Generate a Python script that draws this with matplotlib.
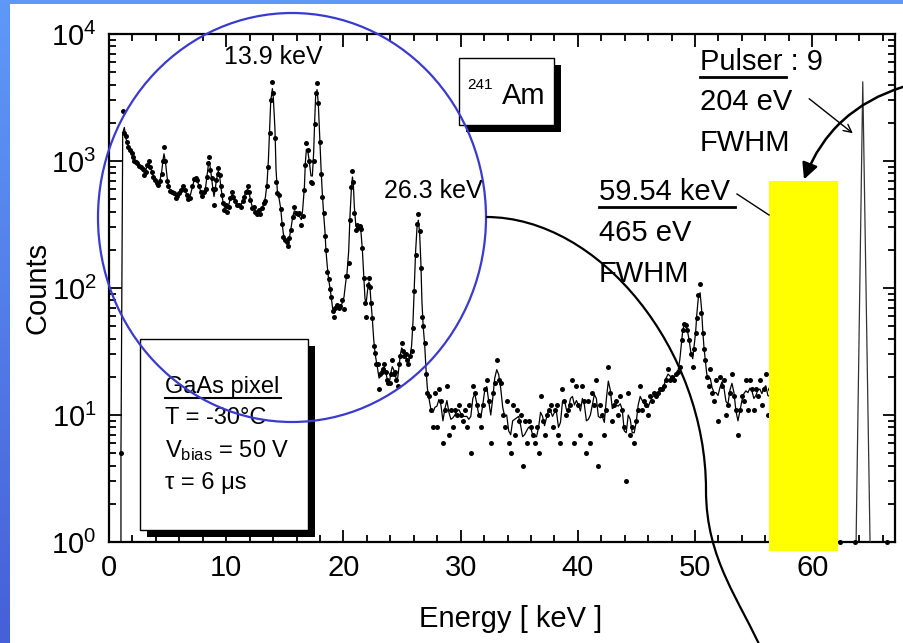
import numpy as np
import matplotlib
matplotlib.use("Agg")
import matplotlib.pyplot as plt
from matplotlib.patches import Rectangle, Ellipse, FancyArrowPatch, PathPatch
from matplotlib.path import Path
from matplotlib.colors import LinearSegmentedColormap
from matplotlib.ticker import MultipleLocator

plt.rcParams["font.family"] = ["Liberation Sans", "DejaVu Sans"]
plt.rcParams["mathtext.fontset"] = "custom"
plt.rcParams["mathtext.rm"] = "Liberation Sans"
plt.rcParams["mathtext.it"] = "Liberation Sans:italic"
plt.rcParams["mathtext.bf"] = "Liberation Sans:bold"

# 241Am spectrum, GaAs pixel (energy in keV, counts per channel)
energy_low = [1.00, 1.02, 1.17, 1.31, 1.42, 1.51, 1.65, 1.79, 1.93, 2.05,
              2.16, 2.27, 2.42, 2.59, 2.73, 2.87, 3.00, 3.13, 3.27, 3.41,
              3.53, 3.64, 3.78, 3.92, 4.07, 4.21, 4.35, 4.49, 4.61, 4.69,
              4.81, 4.95, 5.06, 5.23, 5.40, 5.54, 5.69, 5.83, 5.97, 6.14,
              6.31, 6.46, 6.63, 6.77, 6.94, 7.11, 7.25, 7.39, 7.54, 7.68,
              7.82, 7.96, 8.11, 8.25, 8.36, 8.48, 8.56, 8.65, 8.76, 8.87,
              8.96, 9.05, 9.16, 9.27, 9.33, 9.44, 9.53, 9.64, 9.73, 9.84,
              9.96, 10.10, 10.20, 10.35, 10.47, 10.61, 10.75, 10.92, 11.09, 11.26,
              11.40, 11.55, 11.69, 11.83, 11.95, 12.06, 12.20, 12.34, 12.48, 12.63,
              12.77, 12.91, 13.05, 13.20, 13.34, 13.48, 13.60, 13.71, 13.80, 13.94,
              14.02]
counts_low = [0, 5, 2490, 1650, 1560, 1420, 1280, 1220, 1150, 1070,
              1000, 980, 960, 915, 900, 860, 775, 825, 930, 1000,
              900, 825, 750, 710, 670, 650, 690, 790, 1000, 1280,
              1000, 700, 630, 585, 575, 555, 510, 530, 560, 590,
              640, 595, 540, 500, 510, 630, 720, 730, 710, 630,
              575, 530, 565, 600, 750, 960, 1070, 850, 730, 600,
              450, 600, 710, 790, 880, 770, 630, 540, 465, 410,
              450, 400, 435, 510, 565, 525, 480, 450, 450, 435,
              480, 525, 575, 630, 575, 495, 425, 435, 400, 385,
              410, 385, 425, 465, 485, 630, 900, 1650, 3030, 4210,
              3410]

energy_mid = [14.16, 14.25, 14.36, 14.50, 14.65, 14.76, 14.88, 15.02, 15.16, 15.27,
              15.39, 15.53, 15.67, 15.81, 15.96, 16.10, 16.24, 16.41, 16.52, 16.67,
              16.75, 16.84, 16.95, 17.10, 17.23, 17.35, 17.46, 17.55, 17.63, 17.75,
              17.86, 17.97, 18.09, 18.20, 18.31, 18.43, 18.51, 18.63, 18.74, 18.86,
              18.97, 19.08, 19.20, 19.31, 19.45, 19.60, 19.74, 19.88, 20.05, 20.19,
              20.31, 20.45, 20.56, 20.68, 20.77, 20.85, 20.93, 21.05, 21.16, 21.28,
              21.39, 21.50, 21.61, 21.73, 21.84, 21.93, 22.07, 22.18, 22.27, 22.35,
              22.47, 22.58, 22.70, 22.81, 22.93, 23.04, 23.15, 23.27, 23.38, 23.49,
              23.60, 23.72, 23.83, 23.95, 24.06, 24.17, 24.29, 24.40, 24.51, 24.63,
              24.74, 24.86, 24.97, 25.08, 25.20, 25.31, 25.42, 25.54, 25.68, 25.82,
              25.94, 26.05, 26.16, 26.28, 26.39, 26.50, 26.61, 26.70, 26.81, 26.93,
              27.04, 27.16, 27.30]
counts_mid = [1510, 687, 556, 540, 417, 319, 254, 239, 232, 215,
              246, 286, 365, 432, 392, 383, 387, 313, 369, 591,
              931, 1394, 1220, 1007, 687, 675, 1007, 1954, 3450, 4140,
              2845, 1420, 790, 518, 387, 257, 199, 134, 117, 98,
              85, 66, 59, 70, 73, 70, 72, 80, 68, 124,
              124, 158, 343, 628, 840, 687, 387, 286, 313, 304,
              308, 290, 205, 119, 76, 59, 106, 119, 102, 76,
              58, 35, 31, 25, 25, 16, 21, 22, 23, 25,
              22, 19, 18, 18, 21, 27, 21, 22, 19, 17,
              25, 29, 37, 32, 29, 30, 27, 25, 29, 32,
              48, 94, 182, 319, 383, 283, 143, 59, 50, 37,
              21, 15, 14]

energy_tail = [27.47, 27.64, 27.81, 27.98, 28.15, 28.32, 28.49, 28.66, 28.83, 29.00,
               29.17, 29.34, 29.51, 29.68, 29.85, 30.02, 30.19, 30.36, 30.53, 30.70,
               30.87, 31.04, 31.21, 31.38, 31.55, 31.72, 31.89, 32.06, 32.23, 32.40,
               32.57, 32.74, 32.91, 33.08, 33.25, 33.42, 33.59, 33.76, 33.93, 34.10,
               34.27, 34.44, 34.61, 34.78, 34.95, 35.12, 35.29, 35.46, 35.63, 35.80,
               35.97, 36.14, 36.31, 36.48, 36.65, 36.82, 36.99, 37.16, 37.33, 37.50,
               37.67, 37.84, 38.01, 38.18, 38.35, 38.52, 38.69, 38.86, 39.03, 39.20,
               39.37, 39.54, 39.71, 39.88, 40.05, 40.22, 40.39, 40.56, 40.73, 40.90,
               41.07, 41.24, 41.41, 41.58, 41.75]
counts_tail = [11, 8, 15, 8, 16, 13, 6, 11, 17, 7,
               11, 8, 11, 10, 12, 10, 9, 11, 8, 12,
               5, 17, 15, 12, 10, 8, 12, 16, 19, 13,
               6, 15, 18, 27, 19, 18, 10, 8, 13, 6,
               5, 12, 7, 11, 9, 10, 4, 9, 6, 9,
               8, 7, 6, 8, 5, 14, 9, 7, 10, 11,
               12, 8, 11, 12, 7, 6, 16, 13, 10, 11,
               12, 19, 6, 17, 12, 7, 17, 13, 5, 13,
               6, 15, 12, 19, 4]

energy_high = [41.92, 42.09, 42.26, 42.43, 42.60, 42.77, 42.94, 43.11, 43.28, 43.45,
               43.62, 43.79, 43.96, 44.13, 44.30, 44.47, 44.64, 44.81, 44.98, 45.15,
               45.32, 45.49, 45.66, 45.83, 46.00, 46.17, 46.34, 46.51, 46.68, 46.85,
               47.02, 47.19, 47.36, 47.53, 47.70, 47.87, 48.04, 48.21, 48.38, 48.55,
               48.70, 48.85, 48.95, 49.05, 49.20, 49.35, 49.50, 49.65, 49.80, 49.90,
               50.05, 50.15, 50.29, 50.43, 50.55, 50.66, 50.76, 50.88, 51.00, 51.15,
               51.30, 51.45, 51.62, 51.79, 51.96, 52.13, 52.30, 52.47, 52.64, 52.81,
               52.98, 53.15, 53.32, 53.49, 53.66, 53.83, 54.00, 54.17, 54.34, 54.51,
               54.68, 54.85, 55.02, 55.19, 55.36, 55.53, 55.70, 55.87, 56.04, 56.21,
               56.38, 56.55]
counts_high = [12, 10, 7, 11, 24, 15, 9, 12, 13, 10,
               14, 11, 8, 3, 15, 7, 8, 6, 9, 11,
               17, 11, 13, 12, 10, 14, 13, 15, 14, 15,
               16, 16, 17, 19, 23, 19, 20, 19, 21, 22,
               24, 39, 47, 52, 51, 47, 39, 30, 24, 33,
               44, 58, 88, 108, 63, 44, 33, 27, 20, 17,
               23, 15, 13, 19, 9, 20, 17, 19, 10, 12,
               15, 21, 14, 11, 7, 11, 14, 13, 19, 11,
               19, 16, 11, 16, 14, 19, 12, 16, 21, 10,
               16, 14]

# pulser line and empty channels near the axis
pulser_energy = [63.74, 64.31, 64.93]
pulser_counts = [1, 4200, 1]
floor_energy = [62.37, 63.65, 66.35]
floor_counts = [1, 1, 1]

energy = np.array(energy_low + energy_mid + energy_tail + energy_high)
counts = np.array(counts_low + counts_mid + counts_tail + counts_high, dtype=float)

# light 1-2-1 smoothing for the guide line
smooth = counts.copy()
smooth[1:-1] = (counts[:-2] + 2 * counts[1:-1] + counts[2:]) / 4.0
smooth[1] = counts[1]

W, H = 904, 643
fig = plt.figure(figsize=(W / 100, H / 100), dpi=100)
fig.patch.set_facecolor("white")

ax = fig.add_axes([109 / W, 1 - 542 / H, 786 / W, 508 / H])
ax.set_yscale("log")
ax.plot(energy, smooth, color="black", lw=0.9, zorder=3)
ax.plot(energy, counts, "o", color="black", ms=3.6, mew=0, zorder=4)
ax.plot(pulser_energy, pulser_counts, color="#333333", lw=0.9, zorder=3)
ax.plot(floor_energy, floor_counts, "o", color="black", ms=3.6, mew=0,
        clip_on=False, zorder=4)

ax.set_xlim(0, 67.06)
ax.set_ylim(1, 1e4)
ax.xaxis.set_major_locator(MultipleLocator(10))
ax.xaxis.set_minor_locator(MultipleLocator(2))
ax.tick_params(which="both", direction="in", top=True, right=True,
               width=1.3, labelsize=21, pad=9)
ax.tick_params(which="major", length=9)
ax.tick_params(which="minor", length=5)
for s in ax.spines.values():
    s.set_linewidth(1.6)

ax.set_ylabel("Counts", fontsize=21, labelpad=0)
ax.set_xlabel("Energy [ keV ]", fontsize=21)
ax.xaxis.set_label_coords(0.511, -0.124)

# overlay in figure pixels for the slide decorations
ov = fig.add_axes([0, 0, 1, 1], zorder=5)
ov.set_axis_off()
grad = np.linspace(0, 1, 256).reshape(-1, 1)
cmap = LinearSegmentedColormap.from_list("slide", ["#5f99f8", "#4660d8"])
ov.imshow(grad, extent=(0, 10, H, 0), aspect="auto", cmap=cmap, zorder=0)
ov.add_patch(Rectangle((0, 0), W, 4, fc="#5f99f8", ec="none", zorder=0))
ov.set_xlim(0, W)
ov.set_ylim(H, 0)

# 241Am box
ov.add_patch(Rectangle((466, 65), 95, 67, fc="black", ec="none", zorder=2))
ov.add_patch(Rectangle((459, 58), 95, 67, fc="white", ec="black", lw=1, zorder=3))
ov.text(480, 85, "241", fontsize=11, ha="center", va="center", zorder=4)
ov.text(524, 96, "Am", fontsize=21, ha="center", va="center", zorder=4)

# detector box
ov.add_patch(Rectangle((147, 346), 168, 191, fc="black", ec="none", zorder=2))
ov.add_patch(Rectangle((140, 339), 168, 191, fc="white", ec="black", lw=1, zorder=3))
ov.text(165, 387, "GaAs pixel", fontsize=17, ha="left", va="center", zorder=4)
ov.plot([165, 281], [398, 398], color="black", lw=1.5, zorder=4)
ov.text(165, 418, "T = -30°C", fontsize=17, ha="left", va="center", zorder=4)
ov.text(165, 451, r"V$_{\mathrm{bias}}$ = 50 V", fontsize=17, ha="left",
        va="center", zorder=4)
ov.text(165, 483, "τ = 6 μs", fontsize=17, ha="left", va="center", zorder=4)

# peak labels
ov.text(273, 57, "13.9 keV", fontsize=18, ha="center", va="center", zorder=4)
ov.text(433, 191, "26.3 keV", fontsize=18, ha="center", va="center", zorder=4)

ov.text(700, 62, "Pulser : 9", fontsize=21, ha="left", va="center", zorder=4)
ov.plot([700, 786], [77, 77], color="black", lw=2, zorder=4)
ov.text(700, 102, "204 eV", fontsize=21, ha="left", va="center", zorder=4)
ov.text(700, 143, "FWHM", fontsize=21, ha="left", va="center", zorder=4)

ov.text(599, 192, "59.54 keV", fontsize=21, ha="left", va="center", zorder=4)
ov.plot([599, 735], [207, 207], color="black", lw=2, zorder=4)
ov.text(599, 233, "465 eV", fontsize=21, ha="left", va="center", zorder=4)
ov.text(599, 274, "FWHM", fontsize=21, ha="left", va="center", zorder=4)

# highlighted photopeak
ov.add_patch(Rectangle((769, 181), 69, 370, fc="#ffff00", ec="none", zorder=5))
ov.plot([737, 769], [194, 215], color="black", lw=1, zorder=6)

ov.add_patch(FancyArrowPatch((807, 97), (855, 135), arrowstyle="->",
                             mutation_scale=14, lw=1, color="black", zorder=6))
ov.add_patch(FancyArrowPatch((906, 86), (803, 182), arrowstyle="-|>",
                             connectionstyle="arc3,rad=0.25",
                             mutation_scale=24, lw=1.8, color="black", zorder=6))

# zoom circle and its tail
ov.add_patch(Ellipse((292, 217.5), 388, 409, fill=False, ec="#3a3ad0", lw=1.6,
                     zorder=7))
verts = [(486, 217), (600, 217), (706, 350), (706, 490),
         (706, 560), (740, 600), (764, 655)]
codes = [Path.MOVETO] + [Path.CURVE4] * 6
ov.add_patch(PathPatch(Path(verts, codes), fill=False, ec="black", lw=1.6,
                       zorder=7))

fig.savefig("out.png", dpi=100)
